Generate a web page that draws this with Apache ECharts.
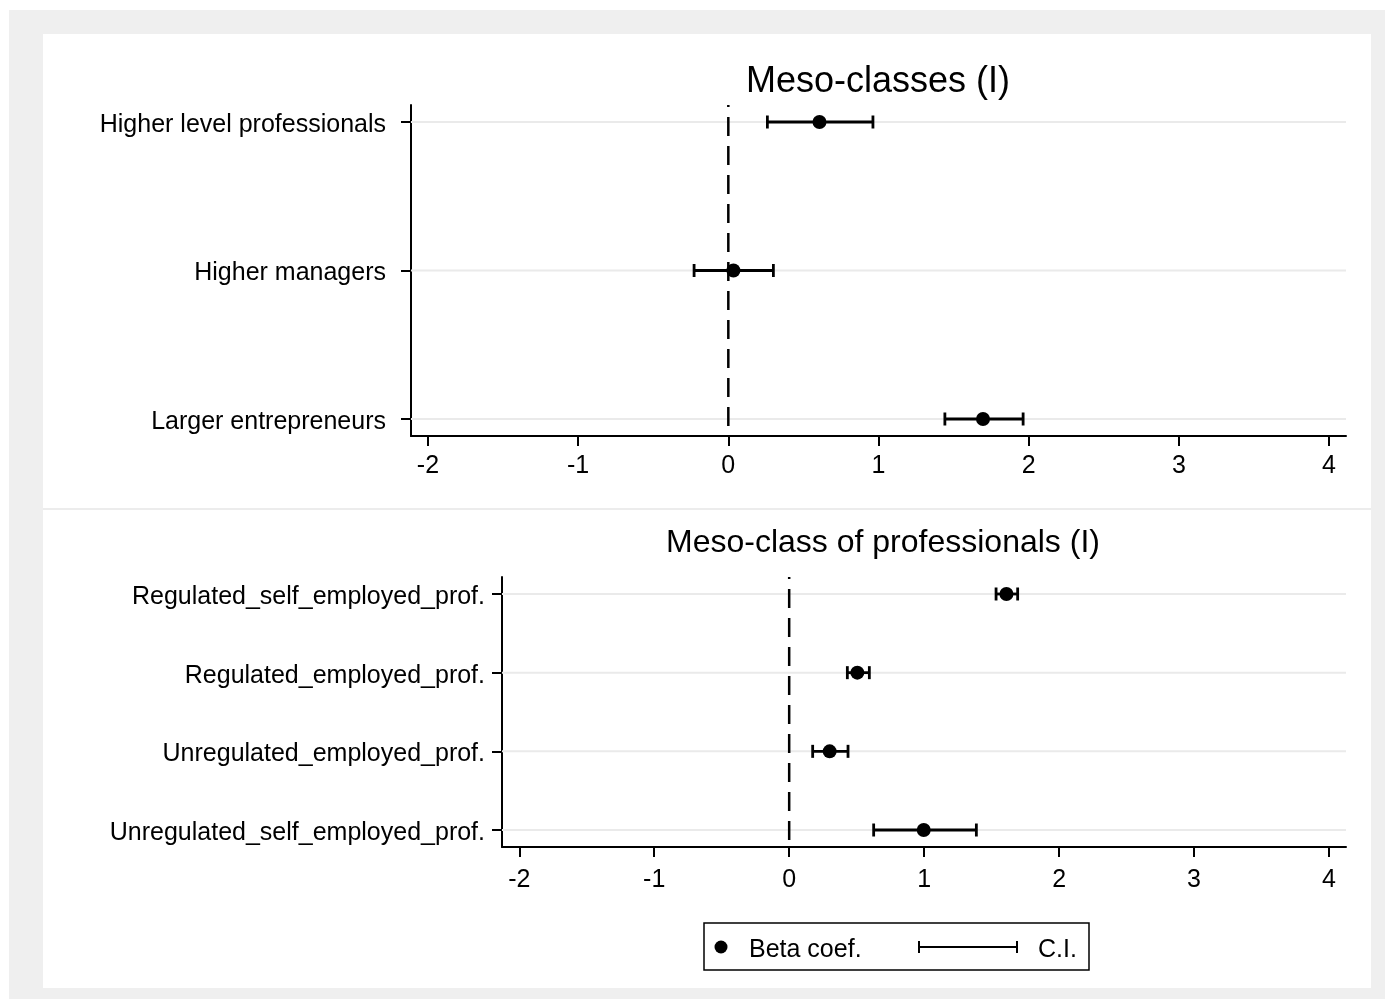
<!DOCTYPE html>
<html>
<head>
<meta charset="utf-8">
<script src="https://cdn.jsdelivr.net/npm/echarts@6/dist/echarts.min.js"></script>
<style>
html,body{margin:0;padding:0;background:#fff;}
#chart{width:1395px;height:999px;}
</style>
</head>
<body>
<div id="chart"></div>
<script>
// ---- data ----
const catsTop = ['Higher level professionals', 'Higher managers', 'Larger entrepreneurs'];
const betaTop = [0.607, 0.034, 1.696];
const ciLowTop = [0.260, -0.228, 1.442];
const ciHighTop = [0.963, 0.300, 1.963];

const catsBot = ['Regulated_self_employed_prof.', 'Regulated_employed_prof.', 'Unregulated_employed_prof.', 'Unregulated_self_employed_prof.'];
const betaBot = [1.610, 0.505, 0.300, 0.997];
const ciLowBot = [1.533, 0.431, 0.174, 0.626];
const ciHighBot = [1.693, 0.594, 0.436, 1.387];

const xTicks = [-2, -1, 0, 1, 2, 3, 4];
const titleTop = 'Meso-classes (I)';
const titleBot = 'Meso-class of professionals (I)';
const legendLabels = ['Beta coef.', 'C.I.'];

// ---- chart ----
const FONT = '"Liberation Sans", Arial, sans-serif';
const chart = echarts.init(document.getElementById('chart'));

function idx(n) { return Array.from({length: n}, (_, i) => i); }

function xAxisCfg(gridIndex, min, max, margin) {
  return {
    type: 'value', gridIndex, min, max,
    axisLine: {show: true, onZero: false, lineStyle: {color: '#000', width: 2}},
    axisTick: {show: true, customValues: xTicks, length: 10, lineStyle: {color: '#000', width: 2}},
    axisLabel: {customValues: xTicks, color: '#000', fontSize: 25, fontFamily: FONT, margin,
      formatter: v => String(Math.round(v))},
    splitLine: {show: false}
  };
}
function yAxisCfg(gridIndex, cats, min, max, margin) {
  const vals = idx(cats.length);
  return {
    type: 'value', gridIndex, min, max, inverse: true,
    axisLine: {show: true, onZero: false, lineStyle: {color: '#000', width: 2}},
    axisTick: {show: true, customValues: vals, length: 10, lineStyle: {color: '#000', width: 2}},
    axisLabel: {customValues: vals, color: '#000', fontSize: 25, fontFamily: FONT, margin,
      formatter: v => '{c|' + cats[Math.round(v)] + '}',
      rich: {c: {color: '#000', fontSize: 25, fontFamily: FONT, lineHeight: 25, padding: [6, 0, 0, 0]}}},
    splitLine: {show: false}
  };
}

function gridSeries(k, n) {
  return {
    type: 'custom', xAxisIndex: k, yAxisIndex: k, z: 1, silent: true,
    data: idx(n).map(i => [0, i]),
    renderItem: (params, api) => {
      const cs = params.coordSys;
      const y = api.coord([0, api.value(1)])[1];
      return {type: 'line', shape: {x1: cs.x, y1: y, x2: cs.x + cs.width, y2: y},
        style: {stroke: '#eaeaea', lineWidth: 2}};
    }
  };
}
function zeroSeries(k) {
  return {
    type: 'custom', xAxisIndex: k, yAxisIndex: k, z: 2, silent: true,
    data: [[0]],
    renderItem: (params, api) => {
      const cs = params.coordSys;
      const x = api.coord([api.value(0), 0])[0];
      return {type: 'line', shape: {x1: x, y1: cs.y, x2: x, y2: cs.y + cs.height},
        style: {stroke: '#000', lineWidth: 2.5, lineDash: [19, 10], lineDashOffset: 17}};
    }
  };
}
function ciSeries(k, lows, highs) {
  return {
    type: 'custom', xAxisIndex: k, yAxisIndex: k, z: 3, silent: true,
    data: lows.map((l, i) => [i, l, highs[i]]),
    renderItem: (params, api) => {
      const i = api.value(0);
      const p1 = api.coord([api.value(1), i]);
      const p2 = api.coord([api.value(2), i]);
      const h = 6.5;
      const st = {stroke: '#000', lineWidth: 2.8};
      return {type: 'group', children: [
        {type: 'line', shape: {x1: p1[0], y1: p1[1], x2: p2[0], y2: p2[1]}, style: st},
        {type: 'line', shape: {x1: p1[0], y1: p1[1] - h, x2: p1[0], y2: p1[1] + h}, style: st},
        {type: 'line', shape: {x1: p2[0], y1: p2[1] - h, x2: p2[0], y2: p2[1] + h}, style: st}
      ]};
    }
  };
}
function pointSeries(k, betas) {
  return {
    type: 'scatter', xAxisIndex: k, yAxisIndex: k, z: 4, silent: true,
    symbol: 'circle', symbolSize: 14, itemStyle: {color: '#000', opacity: 1},
    data: betas.map((b, i) => [b, i])
  };
}

const option = {
  animation: false,
  backgroundColor: '#fff',
  grid: [
    {left: 411, top: 105, width: 935, height: 331},
    {left: 502, top: 577, width: 844, height: 270}
  ],
  xAxis: [xAxisCfg(0, -2.113, 4.113, 18), xAxisCfg(1, -2.128, 4.126, 21)],
  yAxis: [yAxisCfg(0, catsTop, -0.1145, 2.1145, 25), yAxisCfg(1, catsBot, -0.216, 3.216, 17)],
  series: [
    gridSeries(0, catsTop.length), zeroSeries(0), ciSeries(0, ciLowTop, ciHighTop), pointSeries(0, betaTop),
    gridSeries(1, catsBot.length), zeroSeries(1), ciSeries(1, ciLowBot, ciHighBot), pointSeries(1, betaBot)
  ],
  graphic: [
    {type: 'rect', z: -10, silent: true, shape: {x: 9, y: 10, width: 1376, height: 989}, style: {fill: '#efefef'}},
    {type: 'rect', z: -9, silent: true, shape: {x: 43, y: 34, width: 1328, height: 954}, style: {fill: '#fff'}},
    {type: 'rect', z: -8, silent: true, shape: {x: 43, y: 508, width: 1328, height: 2}, style: {fill: '#ececec'}},
    {type: 'text', style: {text: titleTop, x: 878, y: 82, align: 'center', verticalAlign: 'middle',
      font: '36px ' + FONT, fill: '#000'}},
    {type: 'text', style: {text: titleBot, x: 883, y: 543, align: 'center', verticalAlign: 'middle',
      font: '32px ' + FONT, fill: '#000'}},
    // legend
    {type: 'rect', shape: {x: 704, y: 923, width: 385, height: 47}, style: {fill: '#fff', stroke: '#000', lineWidth: 1.5}},
    {type: 'circle', shape: {cx: 721, cy: 947, r: 6.5}, style: {fill: '#000'}},
    {type: 'text', style: {text: legendLabels[0], x: 749, y: 950, verticalAlign: 'middle', font: '25px ' + FONT, fill: '#000'}},
    {type: 'line', shape: {x1: 919, y1: 947, x2: 1017, y2: 947}, style: {stroke: '#000', lineWidth: 2}},
    {type: 'line', shape: {x1: 919, y1: 941, x2: 919, y2: 953}, style: {stroke: '#000', lineWidth: 2}},
    {type: 'line', shape: {x1: 1017, y1: 941, x2: 1017, y2: 953}, style: {stroke: '#000', lineWidth: 2}},
    {type: 'text', style: {text: legendLabels[1], x: 1038, y: 950, verticalAlign: 'middle', font: '25px ' + FONT, fill: '#000'}}
  ]
};
chart.setOption(option);
</script>
</body>
</html>
